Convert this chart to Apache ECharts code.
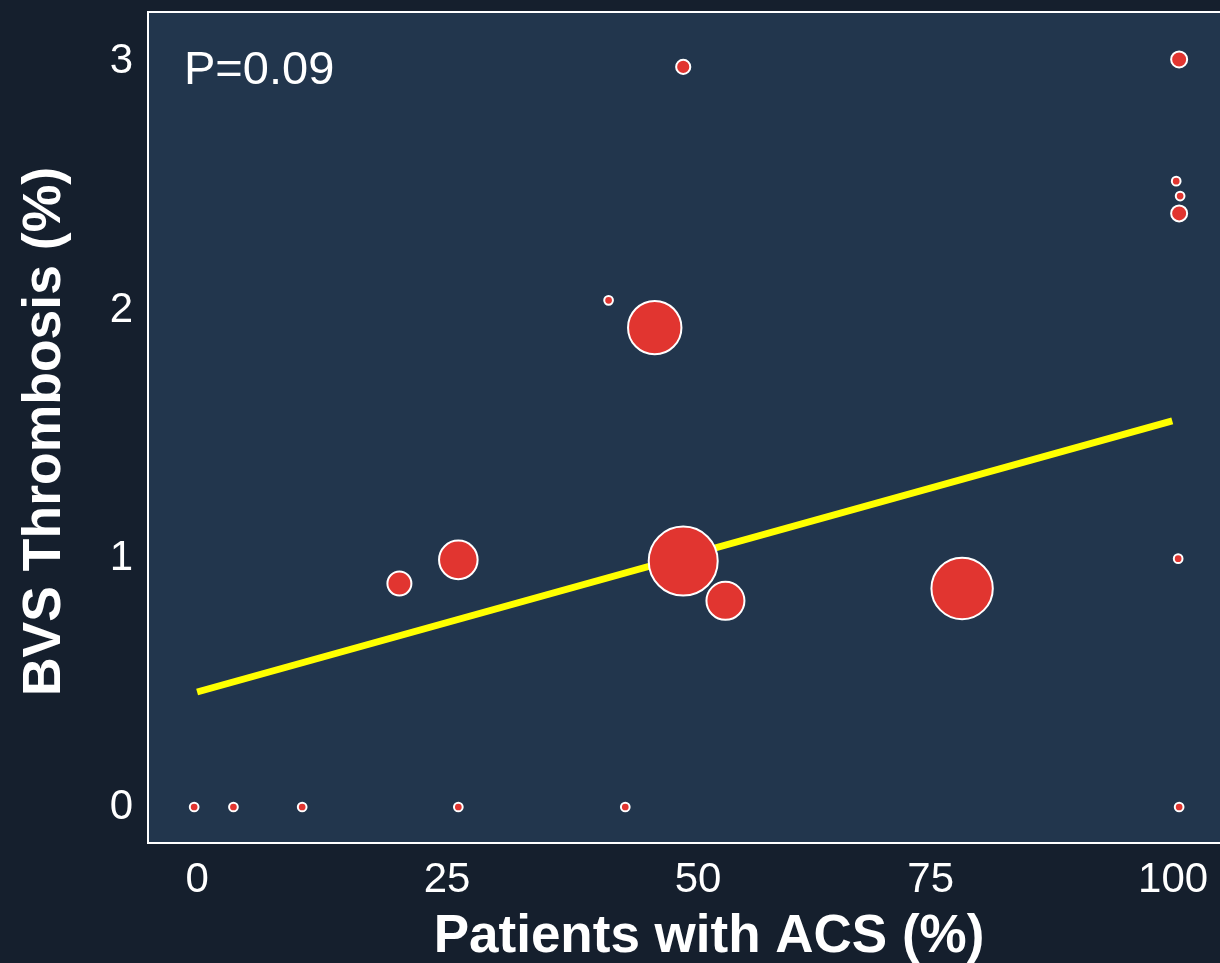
<!DOCTYPE html>
<html>
<head>
<meta charset="utf-8">
<script src="https://cdn.jsdelivr.net/npm/echarts@6/dist/echarts.min.js"></script>
<style>
html,body{margin:0;padding:0;background:#151f2d;}
#chart{width:1220px;height:963px;}
</style>
</head>
<body>
<div id="chart"></div>
<script>
// Study-level data: % patients with ACS, BVS thrombosis %, study weight (relative)
const acsPct    = [-0.3, 3.7, 10.7, 26.6, 43.6, 100, 99.9, 49.5, 100, 99.7, 100.1, 100, 41.9, 46.6, 20.6, 26.6, 49.5, 53.8, 77.9];
const thrombPct = [0, 0, 0, 0, 0, 0, 1.0, 2.98, 3.01, 2.52, 2.46, 2.39, 2.04, 1.93, 0.90, 0.995, 0.99, 0.83, 0.88];
const weights   = [19, 19, 19, 19, 19, 19, 19, 50, 64, 19, 19, 64, 19, 713, 144, 372, 1190, 361, 942];
// Meta-regression line
const trendX = [0, 99.3];
const trendY = [0.463, 1.555];
const xTicks = [0, 25, 50, 75, 100];
const yTicks = [0, 1, 2, 3];

const points = acsPct.map((x, i) => [x, thrombPct[i], weights[i]]);
const trend = trendX.map((x, i) => [x, trendY[i]]);

const chart = echarts.init(document.getElementById('chart'), null, {renderer: 'canvas'});
const font = '"Liberation Sans", Arial, Helvetica, sans-serif';
const gridL = 148, gridT = 12, gridB = 843;
chart.setOption({
  backgroundColor: '#151f2d',
  animation: false,
  grid: {
    left: gridL, top: gridT, width: 1072, height: gridB - gridT,
    outerBoundsMode: 'none', containLabel: false,
    show: true, backgroundColor: '#22364d', borderWidth: 0
  },
  xAxis: {
    type: 'value', min: -5, max: 104.16,
    axisLine: {show: false}, axisTick: {show: false}, splitLine: {show: false},
    axisLabel: {
      customValues: xTicks, color: '#ffffff', fontSize: 42, fontFamily: font, margin: 16,
      formatter: v => '{t' + v + '|' + v + '}',
      rich: {
        t0: {color: '#ffffff', fontSize: 42, fontFamily: font},
        t25: {color: '#ffffff', fontSize: 42, fontFamily: font, padding: [0, 0, 0, 9]},
        t50: {color: '#ffffff', fontSize: 42, fontFamily: font, padding: [0, 0, 0, 20]},
        t75: {color: '#ffffff', fontSize: 42, fontFamily: font, padding: [0, 6, 0, 0]},
        t100: {color: '#ffffff', fontSize: 42, fontFamily: font, padding: [0, 12, 0, 0]}
      }
    },
    name: 'Patients with ACS (%)', nameLocation: 'middle', nameGap: 68,
    nameTextStyle: {color: '#ffffff', fontSize: 53, fontWeight: 'bold', fontFamily: font, padding: [0, 0, 0, 50]}
  },
  yAxis: {
    type: 'value', min: -0.145, max: 3.201,
    axisLine: {show: false}, axisTick: {show: false}, splitLine: {show: false},
    axisLabel: {customValues: yTicks, color: '#ffffff', fontSize: 42, fontFamily: font, margin: 15},
    name: 'BVS Thrombosis (%)', nameLocation: 'middle', nameGap: 76, nameRotate: 90,
    nameTextStyle: {color: '#ffffff', fontSize: 53.5, fontWeight: 'bold', fontFamily: font, padding: [0, 8, 0, 0]}
  },
  graphic: [
    {
      type: 'polyline', silent: true, z: 10,
      shape: {points: [[1222, gridT], [gridL, gridT], [gridL, gridB], [1222, gridB]]},
      style: {stroke: '#ffffff', lineWidth: 2, fill: null}
    },
    {
      type: 'text', left: 184, top: 48,
      style: {text: 'P=0.09', fill: '#ffffff', font: '47px ' + font}
    }
  ],
  series: [
    {
      type: 'line', data: trend, symbol: 'none', z: 2,
      lineStyle: {color: '#ffff00', width: 7}
    },
    {
      type: 'scatter', data: points, z: 3,
      symbolSize: d => 2 * Math.sqrt(d[2]),
      itemStyle: {color: '#e13530', borderColor: '#ffffff', borderWidth: 2, opacity: 1}
    }
  ]
});
</script>
</body>
</html>
